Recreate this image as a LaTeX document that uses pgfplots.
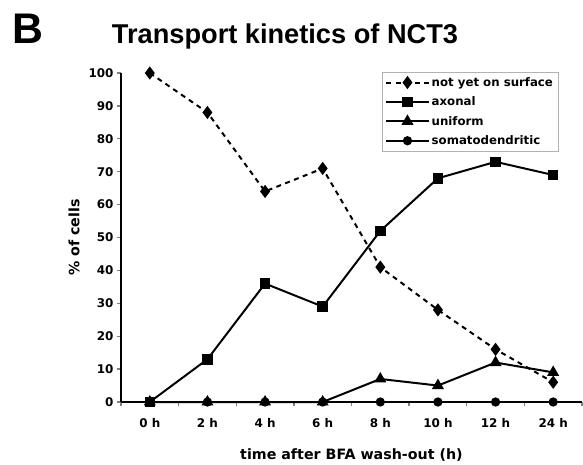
\documentclass[border=0pt]{standalone}
\usepackage{fontspec}
\setmainfont{DejaVu Sans}
\newfontfamily\titlefont{Liberation Sans}
\usepackage{pgfplots}
\pgfplotsset{compat=1.18}
\begin{document}
\begin{tikzpicture}
\begin{axis}[
  at={(0,0)}, anchor=south west,
  scale only axis, width=461bp, height=329bp,
  xmin=-0.5, xmax=7.5, ymin=0, ymax=100,
  axis x line=bottom, axis y line=left,
  axis line style={-, line width=1.4pt},
  xtick={0,...,7},
  xticklabels={0 h,2 h,4 h,6 h,8 h,10 h,12 h,24 h},
  minor xtick={-0.5,0.5,...,7.5},
  major x tick style={draw=none},
  minor x tick style={line width=1.4pt},
  minor tick length=4bp,
  ytick={0,10,...,100},
  y tick style={line width=1.4pt},
  major tick length=4bp,
  tick align=outside,
  /pgf/number format/assume math mode=true,
  tick label style={font=\fontsize{12}{14}\selectfont\bfseries},
  xticklabel style={yshift=-9bp},
  xlabel={time after BFA wash-out (h)},
  ylabel={\% of cells},
  label style={font=\fontsize{14.3}{16}\selectfont\bfseries},
  xlabel style={yshift=-14bp},
  ylabel style={yshift=2bp},
  clip=false,
  legend style={at={(rel axis cs:0.566,1.003)}, anchor=north west,
    font=\fontsize{11.8}{13}\selectfont\bfseries, draw=black!30, line width=0.6pt,
    row sep=5bp, inner sep=3bp},
  legend cell align=left,
  legend image code/.code={\draw[mark repeat=2,mark phase=2] plot coordinates {(0cm,0cm) (0.75cm,0cm) (1.5cm,0cm)};},
  every axis plot/.append style={line width=2pt, black},
]
\addplot[dash pattern=on 5pt off 4.5pt, mark=diamond*, mark size=5pt, mark options={solid}]
  coordinates {(0,100) (1,88) (2,64) (3,71) (4,41) (5,28) (6,16) (7,6)};
\addlegendentry{not yet on surface}
\addplot[mark=square*, mark size=4.3pt]
  coordinates {(0,0) (1,13) (2,36) (3,29) (4,52) (5,68) (6,73) (7,69)};
\addlegendentry{axonal}
\addplot[mark=triangle*, mark size=5pt]
  coordinates {(0,0) (1,0) (2,0) (3,0) (4,7) (5,5) (6,12) (7,9)};
\addlegendentry{uniform}
\addplot[mark=*, mark size=3.6pt]
  coordinates {(0,0) (1,0) (2,0) (3,0) (4,0) (5,0) (6,0) (7,0)};
\addlegendentry{somatodendritic}
\end{axis}
\node[font=\titlefont\bfseries\fontsize{27.3}{30}\selectfont, anchor=center] at (164bp,366bp) {Transport kinetics of NCT3};
\node[font=\titlefont\bfseries\fontsize{43}{46}\selectfont, anchor=center] at (-93.5bp,373bp) {B};
\useasboundingbox (-121bp,-60bp) rectangle (462bp,402bp);
\end{tikzpicture}
\end{document}
